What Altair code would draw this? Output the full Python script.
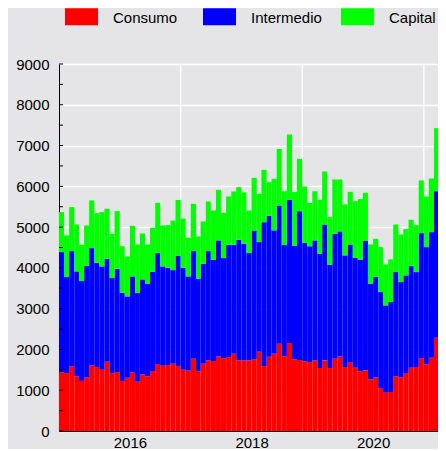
import altair as alt
import pandas as pd

series = ["Consumo", "Intermedio", "Capital"]
colors = ["#ff0000", "#0000ff", "#00ff00"]

start_month = "2014-11-01"
n_months = 77

consumo = [1440, 1420, 1590, 1340, 1230, 1315, 1610, 1570, 1503, 1699, 1421, 1446,
           1226, 1307, 1438, 1209, 1389, 1340, 1471, 1642, 1601, 1618, 1650, 1595,
           1503, 1480, 1773, 1470, 1650, 1732, 1716, 1830, 1789, 1814, 1895, 1732,
           1732, 1732, 1760, 1945, 1595, 1822, 1895, 2140, 1834, 2157, 1756, 1740,
           1710, 1690, 1732, 1544, 1732, 1544, 1773, 1830, 1569, 1691, 1552, 1462,
           1487, 1266, 1315, 1054, 940, 956, 1340, 1315, 1422, 1552, 1569, 1789,
           1634, 1797, 2288, 1879, 2140]
intermedio = [2947, 2355, 2822, 2573, 2447, 2737, 2875, 2556, 2533, 2525, 2329, 2533,
              2165, 1993, 2353, 2173, 2328, 2271, 2434, 2721, 2435, 2385, 2295, 2705,
              2500, 2311, 2639, 2264, 2451, 2680, 2483, 2843, 2451, 2753, 2672, 2958,
              2860, 2631, 3158, 2687, 3525, 3458, 3025, 3391, 2726, 3513, 2789, 3650,
              2902, 2840, 2941, 2802, 3333, 2533, 3064, 3064, 2737, 2884, 2696, 2737,
              3170, 2345, 2460, 2353, 2140, 2206, 2557, 2337, 2393, 2492, 2328, 3064,
              2876, 3080, 3594, 3203, 3360]
capital = [980, 1021, 1078, 1152, 890, 989, 1169, 1217, 1332, 1226, 1087, 1413,
           1139, 981, 1242, 1193, 1128, 964, 1079, 1233, 1005, 1046, 1215, 1366,
           1207, 948, 1160, 1037, 1038, 1217, 1209, 1242, 1111, 1185, 1307, 1290,
           1258, 1045, 1291, 1185, 1285, 823, 1265, 1385, 1320, 1601, 1315, 1285,
           1385, 1062, 1207, 1324, 1299, 1168, 1331, 1274, 1250, 1291, 1389, 1487,
           1185, 964, 939, 1103, 1005, 1046, 1168, 1168, 1136, 1136, 1152, 1291,
           1242, 1316, 1545, 1389, 1750]

y_ticks = list(range(0, 9001, 1000))
y_minor = list(range(0, 9001, 500))
x_label_years = [2016, 2018, 2020]
x_grid_dates = ["2016-11-01", "2018-11-01", "2020-11-01"]
x_domain = [(2014, 11, 1), (2021, 1, 25)]

months = pd.date_range(start_month, periods=n_months + 1, freq="MS")
rows = []
for i in range(n_months):
    base = 0
    for name, vals, k in zip(series, [consumo, intermedio, capital], range(3)):
        v = vals[i]
        rows.append({"start": months[i], "end": months[i + 1], "serie": name,
                     "y0": base, "y1": base + v, "k": k})
        base += v
df = pd.DataFrame(rows)

font = "Liberation Sans"
xscale = alt.Scale(domain=[alt.DateTime(year=a, month=b, date=c) for a, b, c in x_domain])
yscale = alt.Scale(domain=[0, 9000], nice=False)

x_axis = alt.Axis(values=[alt.DateTime(year=y, month=1, date=1) for y in x_label_years],
                  format="%Y", grid=False, ticks=False, tickSize=0,
                  labelPadding=4, title=None, domainColor="black",
                  labelFontSize=15, labelFont=font, labelColor="black", zindex=1)
y_axis = alt.Axis(values=y_ticks, format="d", grid=True, gridColor="white", gridWidth=1.3,
                  ticks=False, tickSize=0, labelPadding=10, title=None,
                  domainColor="black", labelFontSize=15, labelFont=font,
                  labelColor="black")

grid_v = alt.Chart(pd.DataFrame({"d": pd.to_datetime(x_grid_dates)})).mark_rule(
    color="white", strokeWidth=1.3
).encode(x=alt.X("d:T", scale=xscale, axis=x_axis))

bars = alt.Chart(df).mark_bar(clip=True, strokeWidth=0).encode(
    x=alt.X("start:T", scale=xscale, axis=x_axis),
    x2="end:T",
    y=alt.Y("y1:Q", scale=yscale, axis=y_axis),
    y2="y0:Q",
    color=alt.Color("serie:N", scale=alt.Scale(domain=series, range=colors),
                    legend=alt.Legend(title=None, orient="none", legendX=6, legendY=-63,
                                      direction="horizontal", columns=3, gridAlign="all",
                                      columnPadding=19, labelOffset=15,
                                      symbolType="M-1,-0.575L1,-0.575L1,0.455L-1,0.455Z",
                                      symbolSize=1089, symbolStrokeWidth=0,
                                      symbolOpacity=1, labelFontSize=15, labelFont=font,
                                      labelColor="black")),
    order="k:Q",
)

ticks = alt.Chart(pd.DataFrame({"v": y_minor})).mark_rule(color="black", strokeWidth=1).encode(
    y=alt.Y("v:Q", scale=yscale, axis=y_axis),
    x=alt.value(0), x2=alt.value(4),
)

chart = alt.layer(grid_v, bars, ticks).properties(
    width=379, height=367,
    autosize=alt.AutoSizeParams(type="none"),
    padding={"left": 51, "top": 56, "right": 0, "bottom": 18},
    background="#e5e5e8",
).configure_view(stroke="transparent", fill="#e5e5e8")

chart.save("out.html", embed_options={"renderer": "svg", "actions": False})
